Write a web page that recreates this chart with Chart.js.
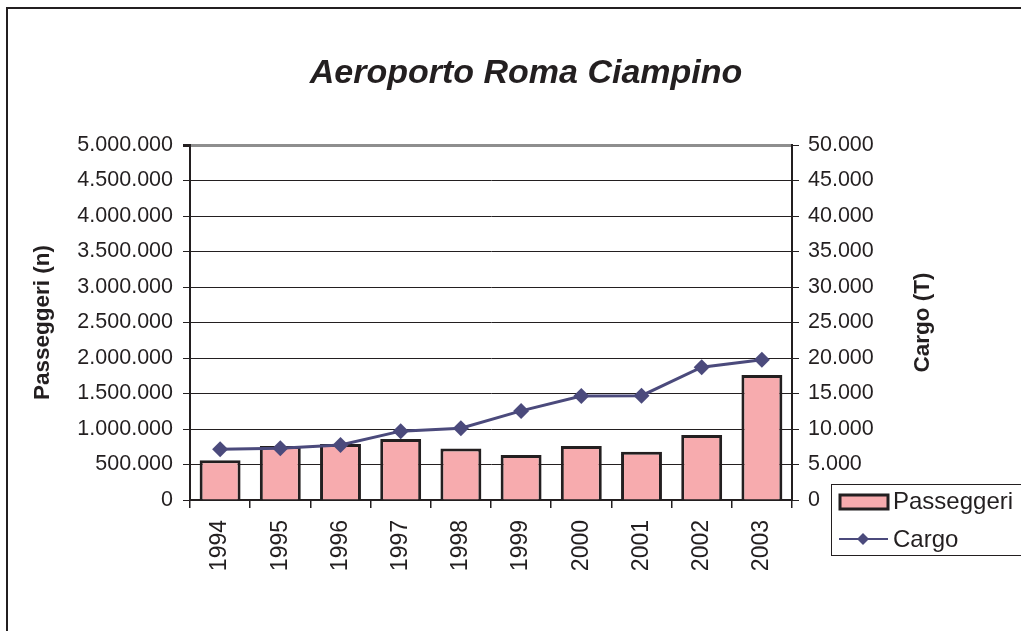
<!DOCTYPE html>
<html>
<head>
<meta charset="utf-8">
<script src="https://cdn.jsdelivr.net/npm/chart.js@4"></script>
<style>
html,body{margin:0;padding:0;background:#fff;}
#wrap{width:1021px;height:631px;}
</style>
</head>
<body>
<div id="wrap"><canvas id="c" width="1021" height="631"></canvas></div>
<script>
const years = ['1994','1995','1996','1997','1998','1999','2000','2001','2002','2003'];
const passeggeri = [560000, 760000, 790000, 860000, 725000, 635000, 760000, 680000, 915000, 1760000];
const cargo = [7150, 7300, 7750, 9700, 10100, 12550, 14650, 14700, 18700, 19750];
const chartTitle = 'Aeroporto Roma Ciampino';
const leftTitle = 'Passeggeri (n)';
const rightTitle = 'Cargo (T)';

const FONT = '"Liberation Sans", Arial, sans-serif';
const INK = '#231f20';
const PINK = '#f7abae';
const LINE = '#4b4a7c';

function fmt(v){ return String(Math.round(v)).replace(/\B(?=(\d{3})+(?!\d))/g, '.'); }

const decor = {
  id: 'decor',
  beforeDraw(chart){
    const c = chart.ctx;
    c.save();
    c.fillStyle = '#fff';
    c.fillRect(0,0,chart.width,chart.height);
    c.restore();
  },
  afterDraw(chart){
    const c = chart.ctx;
    const a = chart.chartArea;
    c.save();
    // frame
    c.strokeStyle = INK; c.lineWidth = 2;
    c.beginPath(); c.moveTo(7, 631); c.lineTo(7, 8); c.lineTo(1021, 8); c.stroke();
    // title
    c.fillStyle = INK;
    c.font = 'italic bold 34px ' + FONT;
    c.textAlign = 'center'; c.textBaseline = 'alphabetic';
    c.fillText(chartTitle, 526, 83);
    // axis titles
    c.font = 'bold 22.5px ' + FONT;
    c.textBaseline = 'middle';
    c.save(); c.translate(43, (a.top + a.bottom)/2); c.rotate(-Math.PI/2); c.fillText(leftTitle, 0, 0); c.restore();
    c.save(); c.translate(923, (a.top + a.bottom)/2); c.rotate(-Math.PI/2); c.fillText(rightTitle, 0, 0); c.restore();
    // legend
    c.lineWidth = 1; c.strokeStyle = INK;
    c.strokeRect(831.5, 484.5, 190, 71);
    const bds = chart.data.datasets[1], lds = chart.data.datasets[0];
    c.fillStyle = bds.backgroundColor; c.fillRect(840, 495, 48, 14);
    c.lineWidth = 3; c.strokeStyle = bds.borderColor; c.strokeRect(840, 495, 48, 14);
    c.strokeStyle = lds.borderColor; c.lineWidth = 2;
    c.beginPath(); c.moveTo(839, 539); c.lineTo(888, 539); c.stroke();
    c.fillStyle = lds.pointBackgroundColor;
    c.beginPath(); c.moveTo(863, 533); c.lineTo(869, 539); c.lineTo(863, 545); c.lineTo(857, 539); c.closePath(); c.fill();
    c.fillStyle = INK; c.font = '24px ' + FONT; c.textAlign = 'left'; c.textBaseline = 'middle';
    c.fillText(bds.label, 893, 502);
    c.fillText(lds.label, 893, 540);
    c.restore();
  }
};

new Chart(document.getElementById('c'), {
  data: {
    labels: years,
    datasets: [
      {
        type: 'line', label: 'Cargo', data: cargo, yAxisID: 'y1', order: 0,
        borderColor: LINE, borderWidth: 3, backgroundColor: LINE,
        pointStyle: 'rectRot', pointRadius: 8, pointBackgroundColor: LINE, pointBorderColor: LINE,
        pointBorderWidth: 0, tension: 0, fill: false
      },
      {
        type: 'bar', label: 'Passeggeri', data: passeggeri, yAxisID: 'y', order: 1,
        backgroundColor: PINK, borderColor: INK, borderWidth: 3,
        barPercentage: 0.68, categoryPercentage: 1.0
      }
    ]
  },
  options: {
    responsive: false, animation: false,
    layout: { padding: { top: 145, left: 0, right: 0, bottom: 0 } },
    plugins: { legend: { display: false }, title: { display: false }, tooltip: { enabled: false } },
    scales: {
      x: {
        type: 'category', offset: true,
        afterFit(s){ s.height = 131; },
        grid: { display: true, drawOnChartArea: false, offset: true, tickLength: 8, color: INK, tickColor: INK, lineWidth: 1.5 },
        border: { display: true, color: INK, width: 2 },
        ticks: { minRotation: 90, maxRotation: 90, autoSkip: false, padding: 12, color: INK, font: { family: FONT, size: 23 } }
      },
      y: {
        position: 'left', min: 0, max: 5000000,
        afterFit(s){ s.width = 190; },
        grid: {
          drawOnChartArea: true, tickLength: 7, tickColor: INK,
          color: (ctx) => ctx.tick && ctx.tick.value === 5000000 ? '#8e8e8e' : INK,
          lineWidth: (ctx) => ctx.tick && ctx.tick.value === 5000000 ? 3 : 1
        },
        border: { display: true, color: INK, width: 2 },
        ticks: { stepSize: 500000, padding: 10, color: INK, font: { family: FONT, size: 21.5 }, callback: (v) => fmt(v) }
      },
      y1: {
        position: 'right', min: 0, max: 50000,
        afterFit(s){ s.width = 229; },
        grid: { drawOnChartArea: false, tickLength: 7, tickColor: INK, color: INK, lineWidth: 1 },
        border: { display: true, color: INK, width: 2 },
        ticks: { stepSize: 5000, padding: 9, color: INK, font: { family: FONT, size: 21.5 }, callback: (v) => fmt(v) }
      }
    }
  },
  plugins: [decor]
});
</script>
</body>
</html>
